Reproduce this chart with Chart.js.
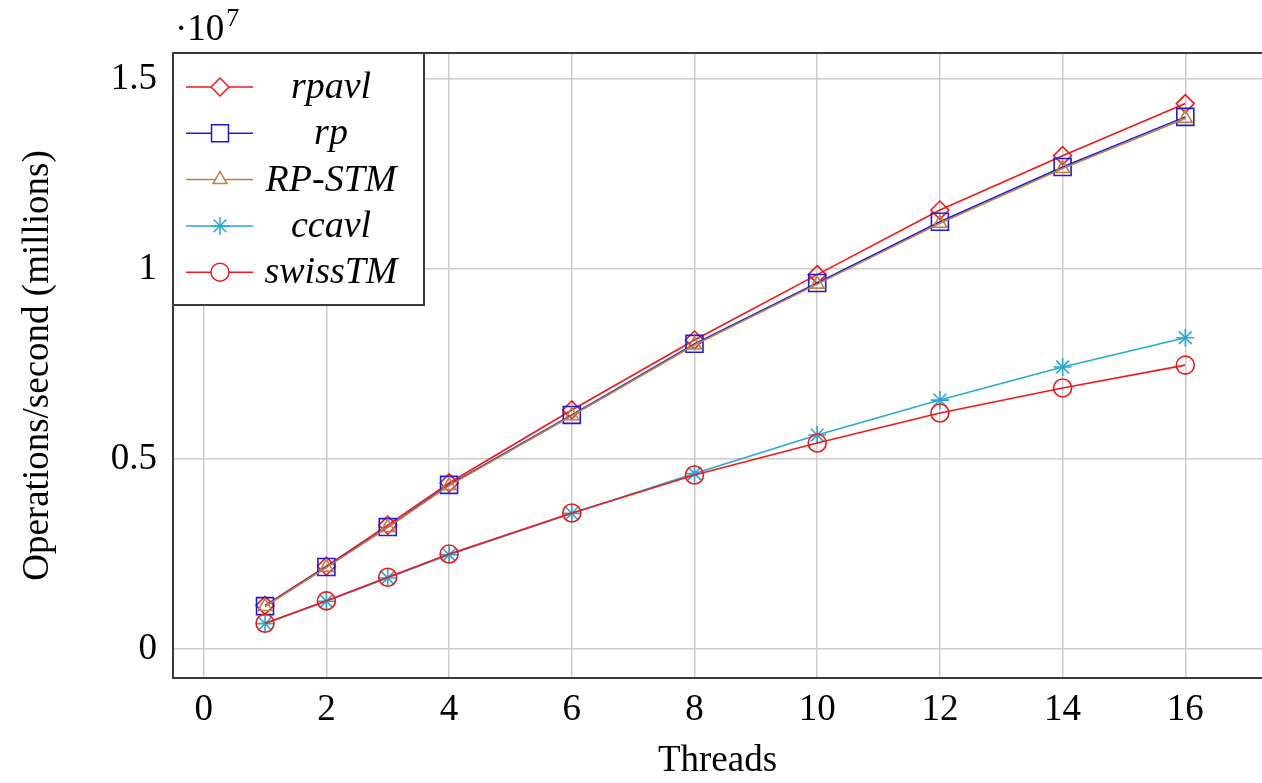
<!DOCTYPE html>
<html lang="en">
<head>
    <meta charset="UTF-8">
    <title>Operations per second vs threads</title>
    <script src="https://cdn.jsdelivr.net/npm/chart.js"></script>
    <style>
        body { margin: 0; background: white; }
        #wrap { width: 1262px; height: 783px; }
    </style>
</head>
<body>
    <div id="wrap"><canvas id="myChart" width="1262" height="783"></canvas></div>
    <script>
        // values are in units of 10^7 operations/second
        const threads = [1, 2, 3, 4, 6, 8, 10, 12, 14, 16];
        const rpavl   = [0.115, 0.218, 0.326, 0.437, 0.629, 0.813, 0.985, 1.155, 1.298, 1.435];
        const rp      = [0.113, 0.216, 0.321, 0.432, 0.616, 0.803, 0.963, 1.124, 1.268, 1.400];
        const rpStm   = [0.112, 0.215, 0.320, 0.430, 0.614, 0.800, 0.960, 1.120, 1.264, 1.396];
        const ccavl   = [0.067, 0.126, 0.187, 0.248, 0.357, 0.462, 0.563, 0.655, 0.742, 0.819];
        const swissTM = [0.068, 0.127, 0.189, 0.250, 0.358, 0.458, 0.542, 0.621, 0.687, 0.747];
        const xTicks = [0, 2, 4, 6, 8, 10, 12, 14, 16];
        const yTicks = [0, 0.5, 1, 1.5];

        const serif = "'Liberation Serif', 'DejaVu Serif', serif";

        function pts(vals) {
            return threads.map((t, i) => ({ x: t, y: vals[i] }));
        }

        const series = [
            { label: 'rpavl',   data: rpavl,   color: '#f01818', style: 'rectRot',  radius: 9,  order: 5 },
            { label: 'rp',      data: rp,      color: '#1a1ae6', style: 'rect',     radius: 12, order: 4 },
            { label: 'RP-STM',  data: rpStm,   color: '#bf8040', style: 'triangle', radius: 8,  order: 3 },
            { label: 'ccavl',   data: ccavl,   color: '#2aa8d2', style: 'star',     radius: 9,  order: 2 },
            { label: 'swissTM', data: swissTM, color: '#f01818', style: 'circle',   radius: 9,  order: 1 }
        ];

        // frame, legend box and the 10^7 factor
        const decorations = {
            id: 'decorations',
            afterDatasetsDraw(chart) {
                const ctx = chart.ctx;
                const a = chart.chartArea;
                ctx.save();
                ctx.strokeStyle = '#3a3a3a';
                ctx.lineWidth = 2;
                ctx.beginPath();
                ctx.moveTo(1262, a.top);
                ctx.lineTo(a.left, a.top);
                ctx.lineTo(a.left, a.bottom);
                ctx.lineTo(1262, a.bottom);
                ctx.stroke();

                // legend
                const lx = a.left, ly = a.top, lw = 424 - a.left, lh = 305 - a.top;
                ctx.fillStyle = 'white';
                ctx.fillRect(lx, ly, lw, lh);
                ctx.strokeRect(lx, ly, lw, lh);
                series.forEach((s, i) => {
                    const y = 87 + i * 46.3;
                    ctx.strokeStyle = s.color;
                    ctx.lineWidth = 1.5;
                    ctx.beginPath();
                    ctx.moveTo(186, y);
                    ctx.lineTo(253, y);
                    ctx.stroke();
                    ctx.fillStyle = 'white';
                    Chart.helpers.drawPoint(ctx, {
                        pointStyle: s.style, radius: s.radius, rotation: 0, borderWidth: 1.5
                    }, 220, y);
                    ctx.fillStyle = 'black';
                    ctx.font = 'italic 38px ' + serif;
                    ctx.textAlign = 'center';
                    ctx.textBaseline = 'middle';
                    ctx.fillText(s.label, 331, y + 1);
                });

                // exponent label
                ctx.fillStyle = 'black';
                ctx.textAlign = 'left';
                ctx.textBaseline = 'alphabetic';
                ctx.font = '37px ' + serif;
                ctx.fillText('\u00b710', 175, 40);
                const w = ctx.measureText('\u00b710').width;
                ctx.font = '26px ' + serif;
                ctx.fillText('7', 175 + w + 2, 26);
                ctx.restore();
            }
        };

        const ctx = document.getElementById('myChart').getContext('2d');
        const chart = new Chart(ctx, {
            type: 'line',
            data: {
                datasets: series.map(s => ({
                    label: s.label,
                    data: pts(s.data),
                    borderColor: s.color,
                    backgroundColor: 'rgba(0,0,0,0)',
                    borderWidth: 1.6,
                    pointStyle: s.style,
                    pointRadius: s.radius,
                    pointBorderWidth: 1.6,
                    pointBorderColor: s.color,
                    pointBackgroundColor: 'rgba(0,0,0,0)',
                    tension: 0,
                    order: s.order
                }))
            },
            options: {
                responsive: false,
                animation: false,
                layout: { autoPadding: false, padding: { top: 53, right: 0, left: 0, bottom: 0 } },
                plugins: { legend: { display: false }, tooltip: { enabled: false } },
                scales: {
                    x: {
                        type: 'linear',
                        min: -0.5,
                        max: 17.25,
                        afterBuildTicks: scale => { scale.ticks = xTicks.map(v => ({ value: v })); },
                        afterFit: scale => {
                            scale.height = 105;
                            scale.paddingLeft = 0;
                            scale.paddingRight = 0;
                        },
                        grid: { color: '#cccccc', lineWidth: 1.5, drawTicks: false },
                        border: { display: false },
                        ticks: {
                            padding: 10,
                            color: 'black',
                            font: { family: serif, size: 37 },
                            maxRotation: 0,
                            callback: v => String(v)
                        },
                        title: {
                            display: true,
                            text: 'Threads',
                            color: 'black',
                            font: { family: serif, size: 37 },
                            padding: { top: 8, bottom: 0 }
                        }
                    },
                    y: {
                        min: -0.076,
                        max: 1.568,
                        afterBuildTicks: scale => { scale.ticks = yTicks.map(v => ({ value: v })); },
                        afterFit: scale => { scale.width = 173; },
                        grid: { color: '#cccccc', lineWidth: 1.5, drawTicks: false },
                        border: { display: false },
                        ticks: {
                            padding: 16,
                            color: 'black',
                            font: { family: serif, size: 37 },
                            callback: v => String(v)
                        },
                        title: {
                            display: true,
                            text: 'Operations/second (millions)',
                            color: 'black',
                            font: { family: serif, size: 37 },
                            padding: { top: 16, bottom: 0 }
                        }
                    }
                }
            },
            plugins: [decorations]
        });
    </script>
</body>
</html>
